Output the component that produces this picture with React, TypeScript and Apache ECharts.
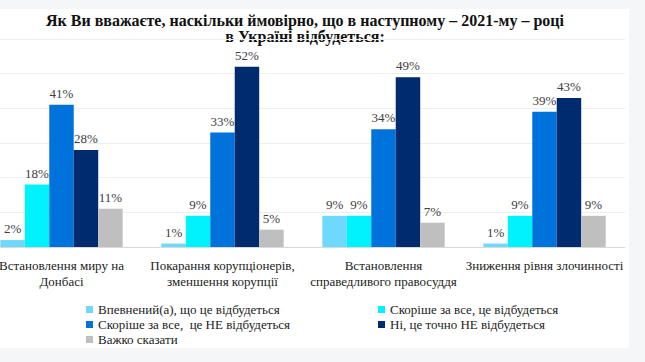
import React, { useEffect, useRef } from "react";
import * as echarts from "echarts";

const categories = [
  "Встановлення миру на\nДонбасі",
  "Покарання корупціонерів,\nзменшення корупції",
  "Встановлення\nсправедливого правосуддя",
  "Зниження рівня злочинності",
];
const seriesNames = [
  "Впевнений(а), що це відбудеться",
  "Скоріше за все, це відбудеться",
  "Скоріше за все,  це НЕ відбудеться",
  "Ні, це точно НЕ відбудеться",
  "Важко сказати",
];
const sureYes = [2, 1, 9, 1];
const ratherYes = [18, 9, 9, 9];
const ratherNo = [41, 33, 34, 39];
const surelyNo = [28, 52, 49, 43];
const hardToSay = [11, 5, 7, 9];
const colors = ["#6ed9fc", "#00f2fd", "#0072dc", "#002b6e", "#bfbfbf"];
const titleLines = [
  "Як Ви вважаєте, наскільки ймовірно, що в наступному – 2021-му – році",
  "в Україні відбудеться:",
];

const SERIF = "Liberation Serif";
const SHIFT = 19;

export default function App() {
  const ref = useRef<HTMLDivElement>(null);
  useEffect(() => {
    document.body.style.margin = "0";
    const chart = echarts.init(ref.current!, null, { renderer: "svg" });
    const values = [sureYes, ratherYes, ratherNo, surelyNo, hardToSay];
    const legendPos = [
      { left: 86, top: 303 },
      { left: 378, top: 303 },
      { left: 86, top: 318 },
      { left: 378, top: 318 },
      { left: 86, top: 333 },
    ];
    chart.setOption({
      animation: false,
      backgroundColor: "transparent",
      color: colors,
      graphic: [
        {
          type: "text",
          x: 305 + SHIFT,
          y: 12,
          style: {
            text: titleLines.join("\n"),
            fontFamily: SERIF,
            fontWeight: "bold",
            fontSize: 16,
            lineHeight: 16,
            fill: "#111",
            textAlign: "center",
          },
        },
      ],
      legend: legendPos.map((p, i) => ({
        data: [seriesNames[i]],
        left: p.left + SHIFT,
        top: p.top,
        padding: 0,
        itemWidth: 7,
        itemHeight: 7,
        icon: "rect",
        textStyle: { fontFamily: SERIF, fontSize: 13, color: "#222" },
      })),
      grid: { left: 0, right: 20, top: 39, bottom: 115, containLabel: false },
      xAxis: {
        type: "category",
        data: categories,
        axisTick: { show: false },
        axisLine: { lineStyle: { color: "#d9d9d9", width: 1 } },
        axisLabel: {
          interval: 0,
          margin: 10,
          fontFamily: SERIF,
          fontSize: 13,
          lineHeight: 16,
          color: "#222",
        },
      },
      yAxis: {
        type: "value",
        min: 0,
        max: 60,
        interval: 10,
        axisLabel: { show: false },
        axisLine: { show: false },
        axisTick: { show: false },
        splitLine: { lineStyle: { color: "#eeeeee", width: 1 } },
      },
      series: values.map((v, i) => ({
        type: "bar",
        name: seriesNames[i],
        data: v,
        barGap: "0%",
        barCategoryGap: "24%",
        itemStyle: { color: colors[i] },
        label: {
          show: true,
          position: "top",
          distance: 5,
          formatter: "{c}%",
          fontFamily: SERIF,
          fontSize: 13,
          color: "#404040",
        },
      })),
    });
    return () => chart.dispose();
  }, []);
  return (
    <div style={{ position: "relative", width: 645, height: 362, background: "#f5f6f8", overflow: "hidden" }}>
      <div style={{ position: "absolute", left: 0, top: 9, width: 629, height: 339, background: "#ffffff" }} />
      <div ref={ref} style={{ position: "absolute", left: -SHIFT, top: 0, width: 645 + SHIFT, height: 362 }} />
    </div>
  );
}
